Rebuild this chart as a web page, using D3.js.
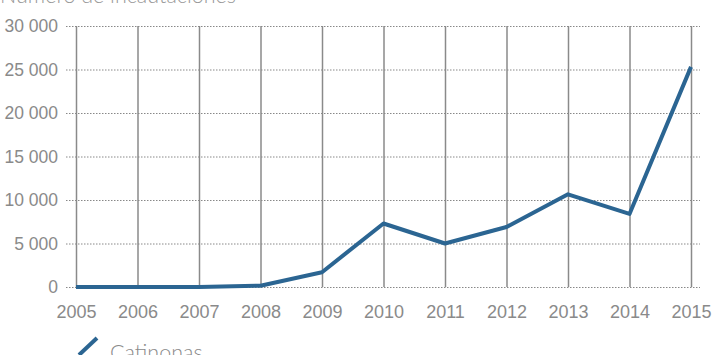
<!DOCTYPE html>
<html>
<head>
<meta charset="utf-8">
<script src="https://cdn.jsdelivr.net/npm/d3@7"></script>
<style>
  body { margin: 0; background: #fff; }
  svg { display: block; font-family: Lato, "Open Sans", sans-serif; font-weight: 300; }
</style>
</head>
<body>
<svg id="chart" width="714" height="355"></svg>
<script>
const years = [2005, 2006, 2007, 2008, 2009, 2010, 2011, 2012, 2013, 2014, 2015];
const catinonas = [0, 0, 0, 150, 1700, 7300, 5000, 6900, 10650, 8400, 25300];
const yTicks = [0, 5000, 10000, 15000, 20000, 25000, 30000];

const svg = d3.select("#chart");
const margin = {top: 26, right: 23, bottom: 68, left: 76};
const width = +svg.attr("width") - margin.left - margin.right;
const height = +svg.attr("height") - margin.top - margin.bottom;

const x = d3.scaleLinear().domain([2005, 2015]).range([0, width]);
const y = d3.scaleLinear().domain([0, 30000]).range([height, 0]);

const g = svg.append("g").attr("transform", `translate(${margin.left},${margin.top})`);

const fmt = v => d3.format(",")(v).replace(/,/g, " ");

// horizontal dotted grid + y labels
g.append("g")
    .call(d3.axisLeft(y).tickValues(yTicks).tickFormat(fmt))
    .call(a => a.select(".domain").remove())
    .call(a => a.selectAll(".tick line")
        .attr("x1", -10)
        .attr("x2", width + 9)
        .attr("stroke", "#888")
        .attr("stroke-dasharray", "1.5,1.5"))
    .call(a => a.selectAll(".tick text")
        .attr("x", -18)
        .style("font-size", "17.5px")
        .style("fill", "#8a8a8a"));

// vertical solid grid + x labels
g.append("g")
    .attr("transform", `translate(0,${height})`)
    .call(d3.axisBottom(x).tickValues(years).tickFormat(d3.format("d")).tickSize(-height).tickPadding(18))
    .call(a => a.select(".domain").remove())
    .call(a => a.selectAll(".tick line").attr("stroke", "#8a8a8a").attr("stroke-width", 1.5))
    .call(a => a.selectAll(".tick text")
        .style("font-size", "18px")
        .style("fill", "#8a8a8a"));

// line
const line = d3.line().x((d, i) => x(years[i])).y(d => y(d));
g.append("path")
    .datum(catinonas)
    .attr("fill", "none")
    .attr("stroke", "#2b6592")
    .attr("stroke-width", 4)
    .attr("stroke-linejoin", "round")
    .attr("d", line);

// title (cut at top, as in the source)
svg.append("text")
    .attr("x", 0)
    .attr("y", 3)
    .style("font-size", "21.5px")
    .style("fill", "#999")
    .text("Número de incautaciones");

// legend
svg.append("line")
    .attr("x1", 79).attr("y1", 355)
    .attr("x2", 97).attr("y2", 338)
    .attr("stroke", "#2b6592")
    .attr("stroke-width", 4);
svg.append("text")
    .attr("x", 110)
    .attr("y", 360)
    .style("font-size", "21.5px")
    .style("fill", "#8a8a8a")
    .text("Catinonas");
</script>
</body>
</html>
